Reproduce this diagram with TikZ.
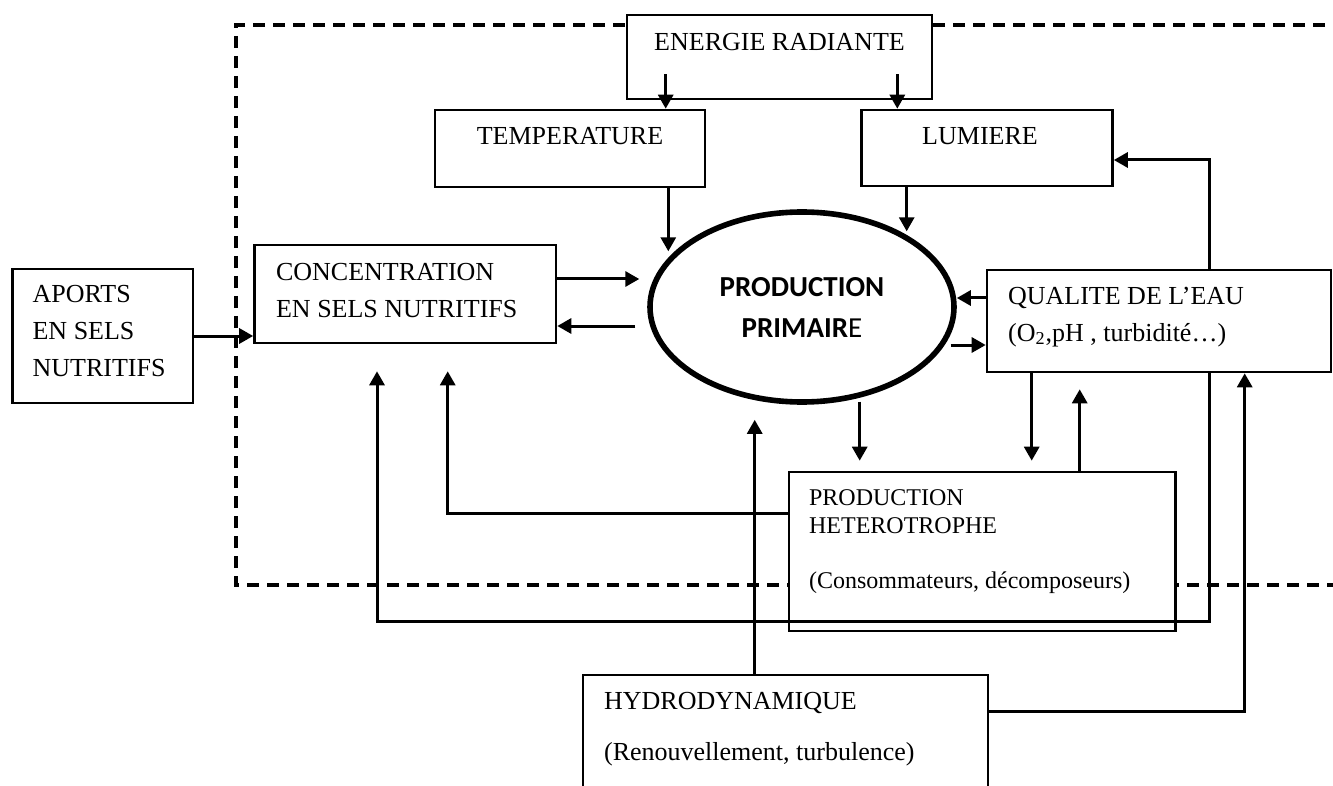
\documentclass[tikz,border=0pt]{standalone}
\usepackage{fontspec}
\setmainfont{Liberation Serif}
\newfontfamily\calfont{Carlito}
\usetikzlibrary{arrows.meta,shapes.geometric,positioning}
\tikzset{
	bloc/.style={draw,line width=1.3pt,fill=white,inner sep=0pt},
	txt/.style={inner sep=0pt,align=left,font=\fontsize{13}{18.5}\selectfont},
	fl/.style={-{Triangle[length=7pt,width=7.5pt]},line width=1.5pt},
}
\begin{document}
\begin{tikzpicture}[x=0.5pt,y=-0.5pt,line join=miter]
				\useasboundingbox (0,0) rectangle (1333,786);
				% cadre
				\draw[line width=1.6pt,dash pattern=on 6pt off 4pt] (1345,25)--(236,25)--(236,585)--(1345,585);
				% blocs
				\node[bloc,minimum width=152.5pt,minimum height=42pt] (ener) at (779.5,57) {};
				\node[bloc,minimum width=135pt,minimum height=38.5pt] (temp) at (570,148.5) {};
				\node[bloc,minimum width=125.5pt,minimum height=38pt] (lum) at (987,148) {};
				\node[bloc,minimum width=90.25pt,minimum height=67pt] (aports) at (102.75,336) {};
				\node[bloc,minimum width=150.75pt,minimum height=49pt] (conc) at (405.25,294) {};
				\node[bloc,minimum width=172pt,minimum height=51pt] (qual) at (1159,321) {};
				\node[bloc,minimum width=193.25pt,minimum height=79.5pt] (hetero) at (982.25,551.5) {};
				\node[bloc,minimum width=202.5pt,minimum height=67.5pt] (hydro) at (785.5,742.5) {};
				\node[draw,ellipse,line width=2.8pt,minimum width=152pt,minimum height=95pt,inner sep=0pt,align=center,
					font=\calfont\bfseries\fontsize{14.5}{20.5}\selectfont] (prim) at (802,307) {PRODUCTION\\PRIMAIR\textmd{E}};
				% textes
				\node[txt,anchor=base] (enertxt) at ([yshift=-18.25pt]ener.north) {ENERGIE RADIANTE};
				\node[txt,anchor=base] (temptxt) at ([yshift=-17.75pt]temp.north) {TEMPERATURE};
				\node[txt,anchor=base] (lumtxt) at ([xshift=-3.5pt,yshift=-17.75pt]lum.north) {LUMIERE};
				\node[txt,anchor=base west] (aportstxt) at ([xshift=10.5pt,yshift=-54.25pt]aports.north west) {APORTS\\EN SELS\\NUTRITIFS};
				\node[txt,anchor=base west] (conctxt) at ([xshift=11.25pt,yshift=-36.75pt]conc.north west) {CONCENTRATION\\EN SELS NUTRITIFS};
				\node[txt,anchor=base west] (qualtxt) at ([xshift=11pt,yshift=-36.25pt]qual.north west) {QUALITE DE L’EAU\\(O\textsubscript{2},pH , turbidité…)};
				\node[txt,anchor=base west,font=\fontsize{12}{14}\selectfont] (heterotxt) at ([xshift=10.5pt,yshift=-58.75pt]hetero.north west)
					{PRODUCTION\\HETEROTROPHE\\[13.5pt](Consommateurs, décomposeurs)};
				\node[txt,anchor=base west,font=\fontsize{13}{14}\selectfont] (hydrotxt) at ([xshift=11pt,yshift=-43.25pt]hydro.north west)
					{HYDRODYNAMIQUE\\[11.5pt](Renouvellement, turbulence)};
				% fleches
				\coordinate (retour) at (377,621);
				\draw[fl] ([xshift=20pt,yshift=13pt]ener.south west) -- ([xshift=20pt]ener.south west |- temp.north);
				\draw[fl] ([xshift=-18pt,yshift=13pt]ener.south east) -- ([xshift=-18pt]ener.south east |- lum.north);
				\draw[fl] ([xshift=-19pt]temp.south east) -- ++(0,63);
				\draw[fl] ([xshift=23.25pt]lum.south west) -- ++(0,44);
				\draw[fl] ([xshift=112pt]qual.north west) |- ([yshift=-6pt]lum.east);
				\draw[fl] (aports.east) -- (aports.east -| conc.west);
				\draw[fl] ([yshift=7.5pt]conc.east) -- ++(82,0);
				\draw[fl] ([xshift=39pt,yshift=-16pt]conc.east) -- ([yshift=-16pt]conc.east);
				\draw[fl] ([yshift=11.5pt]qual.west) -- ([yshift=11.5pt]qual.west -| prim.east);
				\draw[fl] ([xshift=-17.5pt,yshift=-12pt]qual.west) -- ([yshift=-12pt]qual.west);
				\draw[fl] ([xshift=36pt,yshift=34.5pt]hetero.north west) -- ([xshift=36pt,yshift=5pt]hetero.north west);
				\draw[fl,shorten >=5pt] ([xshift=23pt]qual.south west) -- ([xshift=23pt]qual.south west |- hetero.north);
				\draw[fl,shorten >=8pt] ([xshift=146pt]hetero.north west) -- ([xshift=146pt]hetero.north west |- qual.south);
				\draw[fl,shorten >=13.5pt] ([xshift=112pt]qual.south west) |- (retour) -- (retour |- conc.south);
				\draw[fl,shorten >=13.5pt] ([yshift=19.25pt]hetero.west) -| ([xshift=97.25pt]conc.south west);
				\draw[fl,shorten >=7.5pt] ([xshift=86.5pt]hydro.north west) -- ([xshift=86.5pt]hydro.north west |- prim.south);
				\draw[fl] ([yshift=-19pt]hydro.north east) -| ([xshift=129.5pt]qual.south west);
			\end{tikzpicture}
\end{document}
